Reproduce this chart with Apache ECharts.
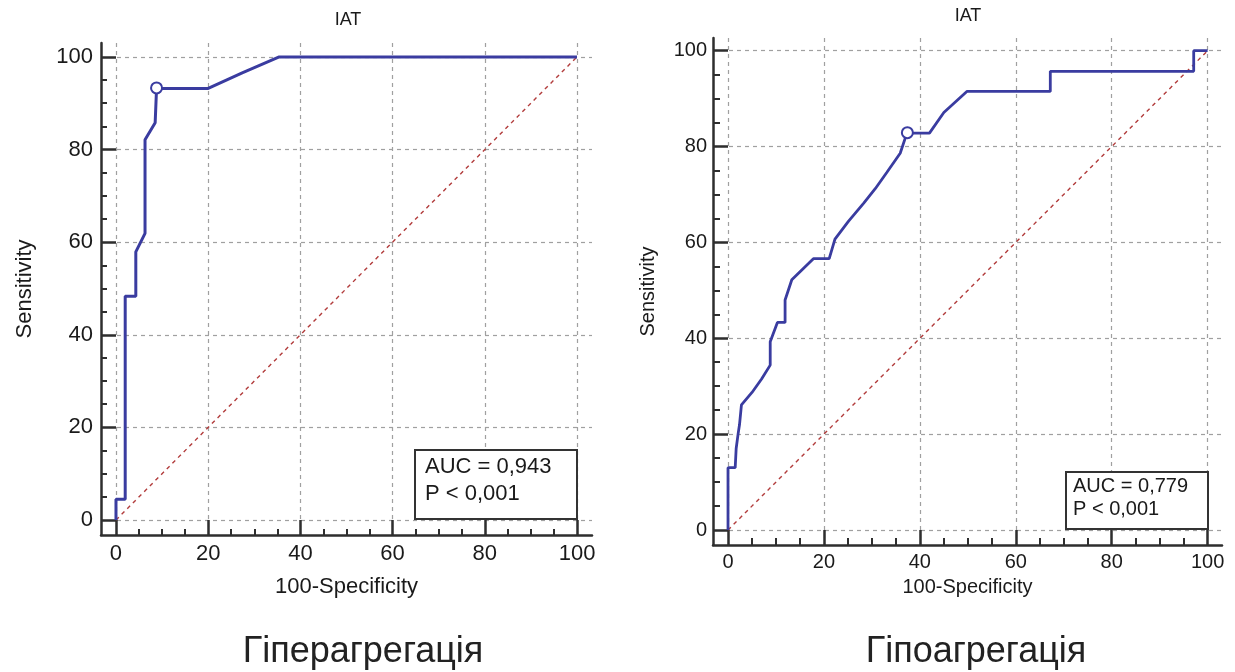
<!DOCTYPE html>
<html>
<head>
<meta charset="utf-8">
<script src="https://cdn.jsdelivr.net/npm/echarts@6/dist/echarts.min.js"></script>
<style>
html,body{margin:0;padding:0;background:#fff;}
#c{width:1235px;height:672px;}
</style>
</head>
<body>
<div id="c"></div>
<script>
// ---- data ----
const majorTicks = [0, 20, 40, 60, 80, 100];
const minorTicks = [5, 10, 15, 25, 30, 35, 45, 50, 55, 65, 70, 75, 85, 90, 95];
const diagonal = [[0, 0], [100, 100]];

const leftTitle = 'IAT';
const leftROC = [[0,0],[0,4.5],[2,4.5],[2,48.3],[4.3,48.3],[4.3,57.9],[6.3,61.9],[6.3,82.1],[8.5,85.8],[8.8,93.2],[20,93.2],[27.5,96.6],[35.4,100],[100,100]];
const leftCut = [[8.8, 93.3]];
const leftAUC = 'AUC = 0,943';
const leftP = 'P < 0,001';
const leftCaption = 'Гіперагрегація';

const rightTitle = 'IAT';
const rightROC = [[0,0],[0,13],[1.5,13],[1.7,17],[2.1,20],[2.4,22],[2.8,26.1],[5,28.7],[7,31.5],[8.8,34.4],[8.8,39.3],[10.3,43.3],[11.9,43.3],[11.9,48],[13.3,52.2],[17.8,56.6],[21.1,56.6],[22.3,60.7],[25.1,64.4],[28.3,68.2],[30.7,71.2],[33.1,74.6],[35.9,78.6],[37.3,82.8],[42,82.8],[45,87.1],[49.8,91.5],[67.2,91.5],[67.2,95.7],[97.1,95.7],[97.1,100],[100,100]];
const rightCut = [[37.4, 82.9]];
const rightAUC = 'AUC = 0,779';
const rightP = 'P < 0,001';
const rightCaption = 'Гіпоагрегація';

const xName = '100-Specificity';
const yName = 'Sensitivity';

// ---- styling ----
const FONT = 'Liberation Sans, Arial, sans-serif';
const AXIS_COLOR = '#2e2e2e';
const TEXT_COLOR = '#1a1a1a';
const CURVE = '#3a3ca0';
const DIAG = '#b23c3c';
const GRID_COLOR = '#a0a0a0';

function majorAxis(gridIndex, min, max, fs, margin, name, nameGap, isY) {
  return {
    type: 'value', gridIndex, min, max,
    position: isY ? 'left' : 'bottom',
    axisLine: { show: true, onZero: false, lineStyle: { color: AXIS_COLOR, width: 2.5 } },
    axisTick: { show: true, inside: true, length: 15, customValues: majorTicks, lineStyle: { color: AXIS_COLOR, width: 2.5 } },
    axisLabel: { show: true, customValues: majorTicks, margin, fontSize: fs, fontFamily: FONT, color: TEXT_COLOR },
    splitLine: { show: true, lineStyle: { color: GRID_COLOR, width: 1.2, type: [4, 4] } },
    name, nameLocation: 'middle', nameGap,
    nameTextStyle: { fontSize: fs, fontFamily: FONT, color: TEXT_COLOR },
    nameRotate: isY ? 90 : 0
  };
}
function minorAxis(gridIndex, min, max, len, isY) {
  return {
    type: 'value', gridIndex, min, max,
    position: isY ? 'left' : 'bottom',
    axisLine: { show: false, onZero: false },
    axisTick: { show: true, inside: true, length: len, customValues: minorTicks, lineStyle: { color: AXIS_COLOR, width: 2 } },
    axisLabel: { show: false },
    splitLine: { show: false }
  };
}

const chart = echarts.init(document.getElementById('c'));
chart.setOption({
  animation: false,
  backgroundColor: '#fff',
  grid: [
    { left: 101, top: 43, width: 491, height: 492 },
    { left: 713, top: 38, width: 509, height: 507 }
  ],
  xAxis: [
    majorAxis(0, -3.25, 103.25, 22, 8, xName, 41, false),
    minorAxis(0, -3.25, 103.25, 6, false),
    majorAxis(1, -3.13, 103.0, 20, 7, xName, 32, false),
    minorAxis(1, -3.13, 103.0, 7, false)
  ],
  yAxis: [
    majorAxis(0, -3.24, 103.0, 22, 8, yName, 65, true),
    minorAxis(0, -3.24, 103.0, 6, true),
    majorAxis(1, -3.13, 102.65, 20, 6, yName, 55, true),
    minorAxis(1, -3.13, 102.65, 7, true)
  ],
  series: [
    { type: 'line', xAxisIndex: 0, yAxisIndex: 0, data: diagonal, symbol: 'none', z: 3,
      lineStyle: { color: DIAG, width: 1.4, type: [4, 4] } },
    { type: 'line', xAxisIndex: 0, yAxisIndex: 0, data: leftROC, symbol: 'none', z: 4,
      lineStyle: { color: CURVE, width: 3 } },
    { type: 'scatter', xAxisIndex: 0, yAxisIndex: 0, data: leftCut, symbol: 'circle', symbolSize: 11, z: 5,
      itemStyle: { color: '#fff', opacity: 1, borderColor: CURVE, borderWidth: 2 } },
    { type: 'line', xAxisIndex: 2, yAxisIndex: 2, data: diagonal, symbol: 'none', z: 3,
      lineStyle: { color: DIAG, width: 1.4, type: [4, 4] } },
    { type: 'line', xAxisIndex: 2, yAxisIndex: 2, data: rightROC, symbol: 'none', z: 4,
      lineStyle: { color: CURVE, width: 2.8 } },
    { type: 'scatter', xAxisIndex: 2, yAxisIndex: 2, data: rightCut, symbol: 'circle', symbolSize: 11, z: 5,
      itemStyle: { color: '#fff', opacity: 1, borderColor: CURVE, borderWidth: 2 } }
  ],
  graphic: [
    { type: 'text', x: 348, y: 20, z: 100, style: { text: leftTitle, font: '18px ' + FONT, fill: TEXT_COLOR, align: 'center', verticalAlign: 'middle' } },
    { type: 'text', x: 968, y: 16, z: 100, style: { text: rightTitle, font: '18px ' + FONT, fill: TEXT_COLOR, align: 'center', verticalAlign: 'middle' } },
    { type: 'rect', z: 100, shape: { x: 415, y: 450, width: 162, height: 69 }, style: { fill: '#fff', stroke: '#333', lineWidth: 2 } },
    { type: 'text', z: 101, x: 425, y: 453, style: { text: leftAUC + '\n' + leftP, font: '22px ' + FONT, lineHeight: 27.5, fill: TEXT_COLOR } },
    { type: 'rect', z: 100, shape: { x: 1066, y: 472, width: 142, height: 57 }, style: { fill: '#fff', stroke: '#333', lineWidth: 2 } },
    { type: 'text', z: 101, x: 1073, y: 474.5, style: { text: rightAUC + '\n' + rightP, font: '20px ' + FONT, lineHeight: 23, fill: TEXT_COLOR } },
    { type: 'text', x: 363, y: 652, z: 100, style: { text: leftCaption, font: '36px ' + FONT, fill: '#222', align: 'center', verticalAlign: 'middle' } },
    { type: 'text', x: 976, y: 652, z: 100, style: { text: rightCaption, font: '36px ' + FONT, fill: '#222', align: 'center', verticalAlign: 'middle' } }
  ]
});
</script>
</body>
</html>
